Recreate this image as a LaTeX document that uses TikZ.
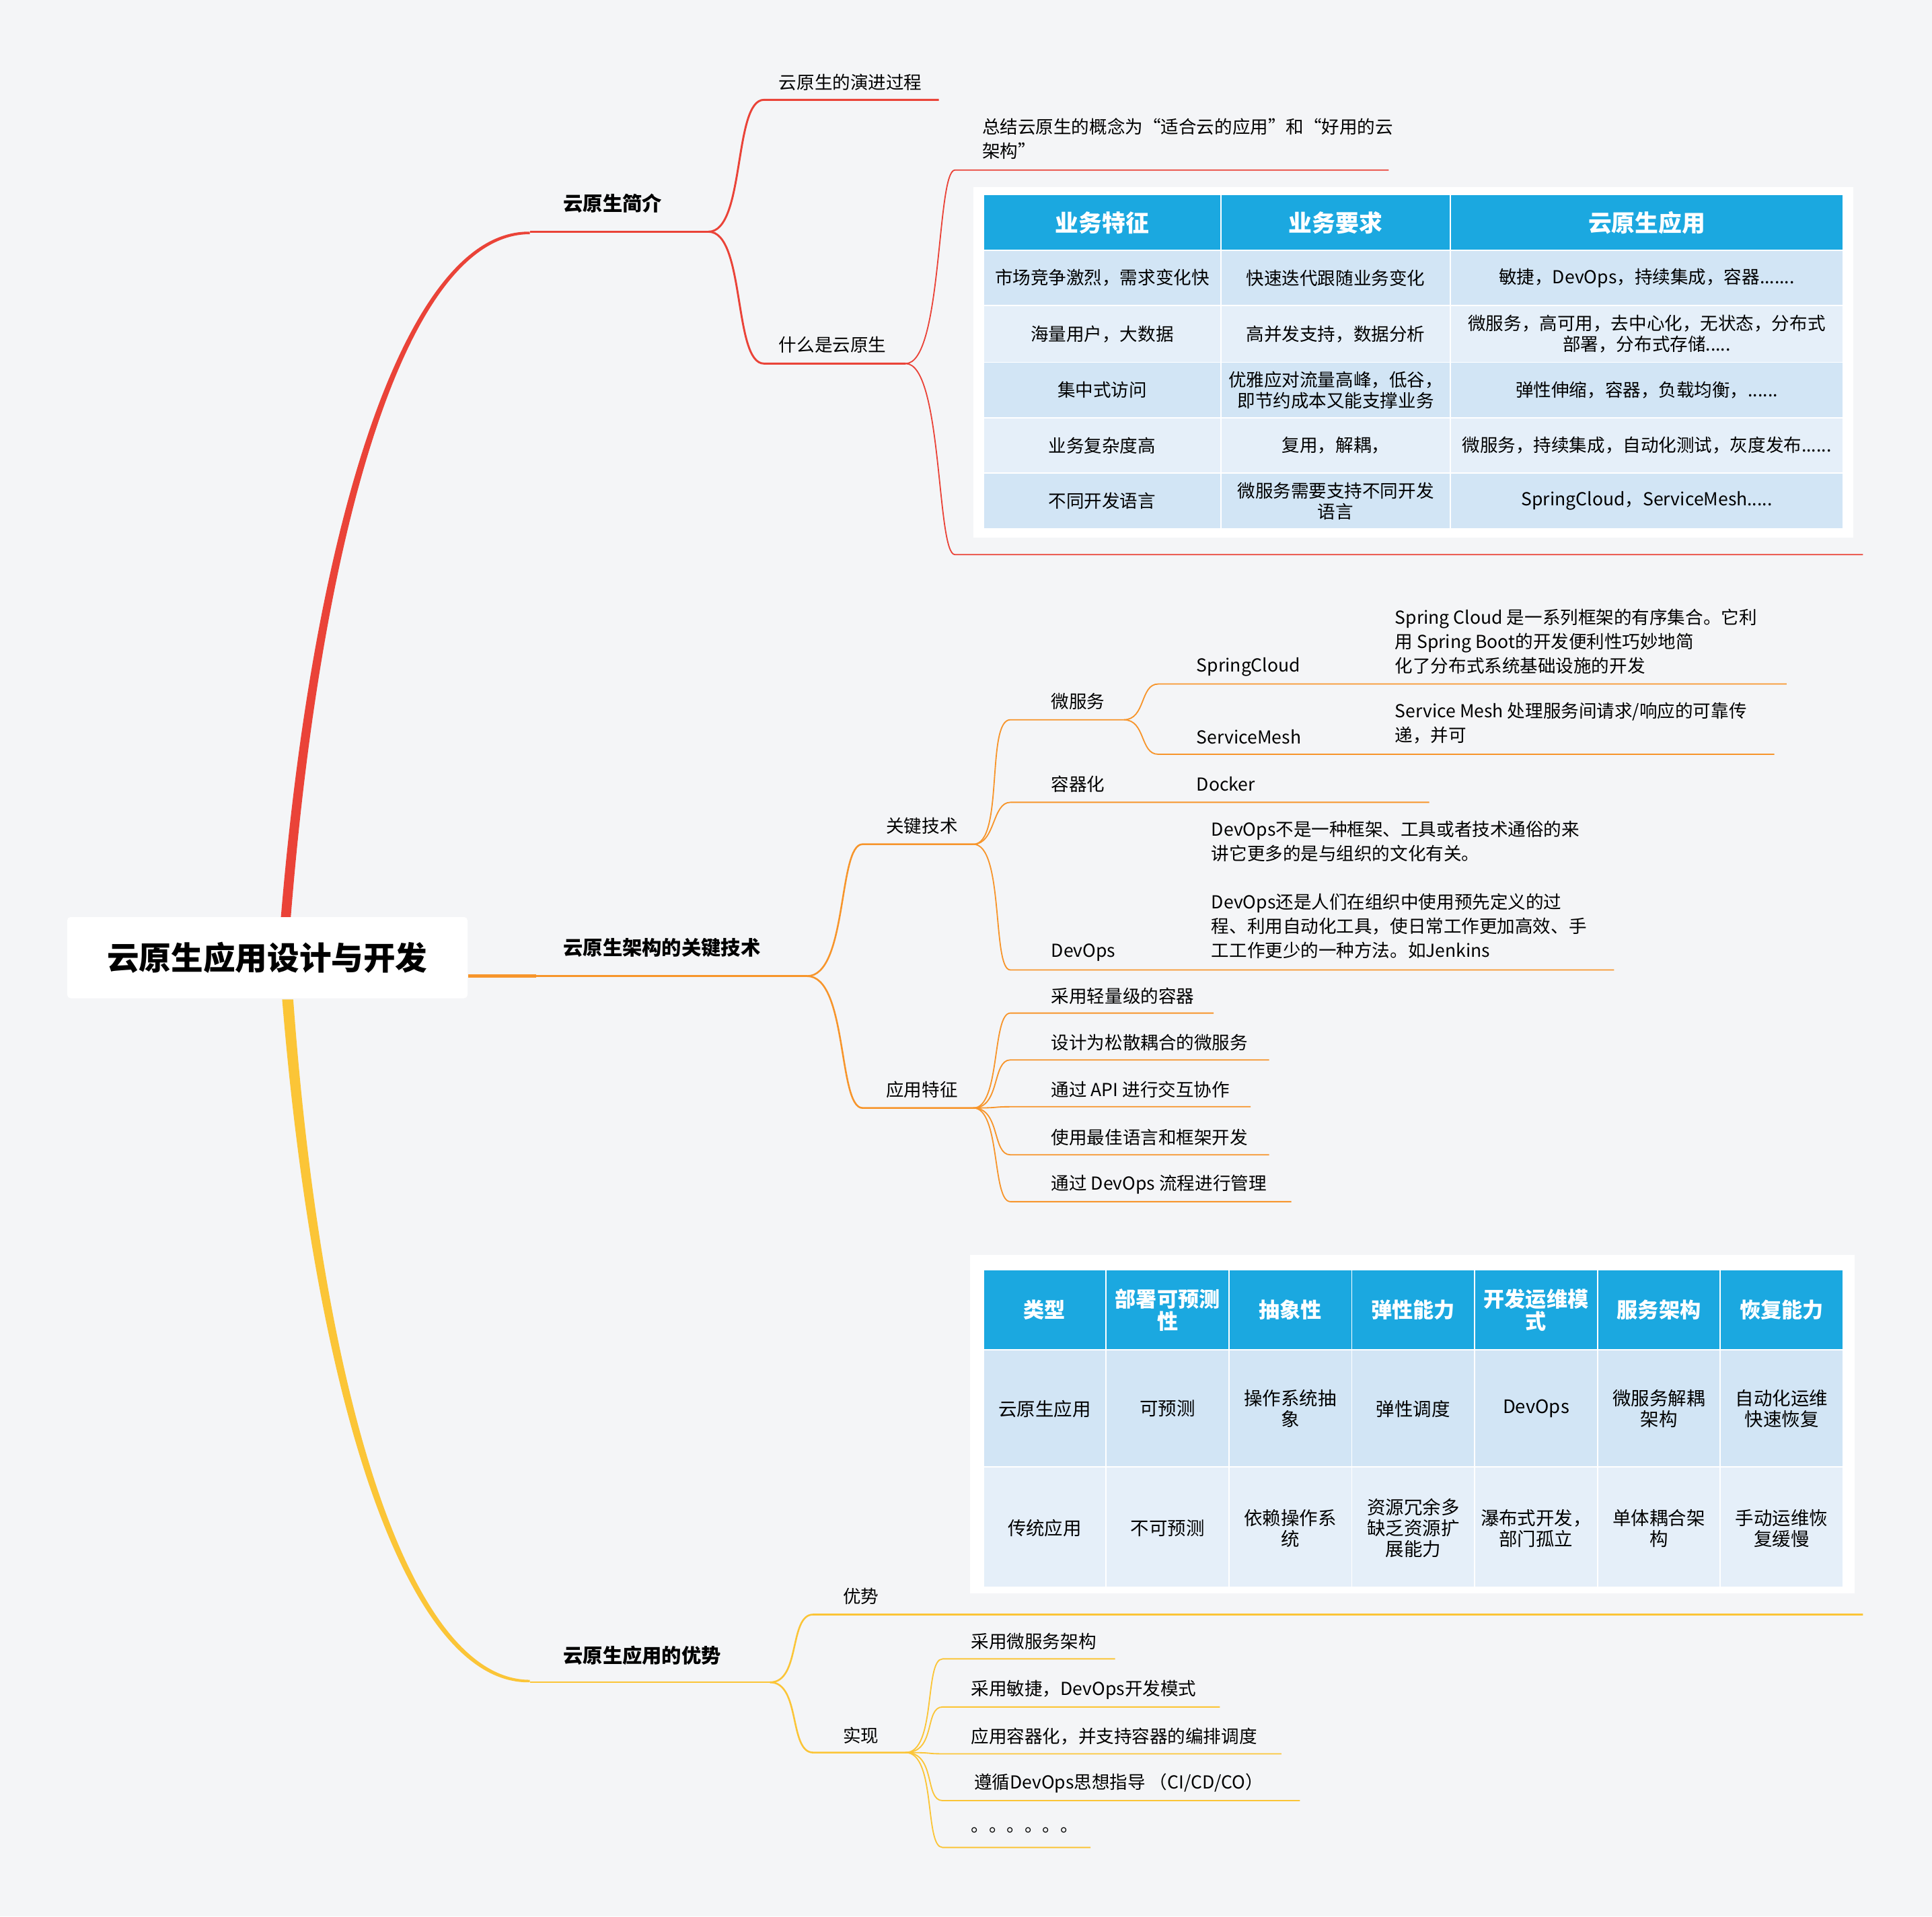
\documentclass[tikz,border=0pt]{standalone}
\usepackage{fontspec}
\setmainfont{Noto Sans CJK SC}
\begin{document}
\begin{tikzpicture}[x=1pt,y=-1pt,
  txt/.style={anchor=west,inner sep=0pt,font=\fontsize{14.5}{19.5}\selectfont,align=left},
  red/.style={draw=cRed,line width=1.6pt},
  org/.style={draw=cOrg,line width=1.4pt},
  yel/.style={draw=cYel,line width=1.4pt},
  hd/.style={fill=cHead,draw=white,line width=1pt},
  ra/.style={fill=cRowA,draw=white,line width=1pt},
  rb/.style={fill=cRowB,draw=white,line width=1pt},
  ct/.style={inner sep=0pt,align=center,font=\fontsize{14.5}{17}\selectfont},
  ht/.style={inner sep=0pt,align=center,text=white,font=\fontsize{19}{21}\selectfont\bfseries}]
\definecolor{cBg}{HTML}{F4F5F7}
\definecolor{cRed}{HTML}{EA4338}
\definecolor{cOrg}{HTML}{F7952B}
\definecolor{cYel}{HTML}{FBC537}
\definecolor{cHead}{HTML}{1BA8E0}
\definecolor{cRowA}{HTML}{D2E5F5}
\definecolor{cRowB}{HTML}{E5EFF9}
\fill[cBg] (0,0) rectangle (1568,1555);
\useasboundingbox (0,0) rectangle (1568,1555);
% root
\node[fill=white,rounded corners=3pt,minimum width=325pt,minimum height=66pt,font=\fontsize{26}{30}\selectfont\bfseries] (root) at (217,777) {云原生应用设计与开发};
% main branches
\coordinate (r0) at (231,744); \coordinate (r1) at (430,188); \coordinate (r2) at (575,188);
\coordinate (o0) at (380,792); \coordinate (o1) at (435,792); \coordinate (o2) at (655,792);
\coordinate (y0) at (232,811); \coordinate (y1) at (430,1365); \coordinate (y2) at (625,1365);
\fill[cRed] (228,744) .. controls (255,420) and (330,186) .. (r1) -- (430,190) .. controls (332,190) and (262,420) .. (236,744) -- cycle;
\draw[red] (r1) -- (r2);
\fill[cYel] (229,811) .. controls (256,1140) and (330,1367) .. (y1) -- (430,1363) .. controls (334,1363) and (262,1140) .. (238,811) -- cycle;
\draw[yel] (y1) -- (y2);
\draw[cOrg,line width=2.5pt] (o0) -- (o1); \draw[org] (o1) -- (o2);
\node[txt,font=\fontsize{16}{19}\selectfont\bfseries] (t1) at (457,165) {云原生简介};
\node[txt,font=\fontsize{16}{19}\selectfont\bfseries] (t2) at (457,769) {云原生架构的关键技术};
\node[txt,font=\fontsize{16}{19}\selectfont\bfseries] (t3) at (457,1343) {云原生应用的优势};
% red children
\node[txt] (a1) at (632,67) {云原生的演进过程};
\coordinate (a1s) at (620,81); \coordinate (a1e) at (762,81);
\draw[red] (r2) .. controls (605,188) and (595,81) .. (a1s) -- (a1e);
\node[txt] (a2) at (632,280) {什么是云原生};
\coordinate (a2s) at (620,295); \coordinate (a2e) at (735,295);
\draw[red] (r2) .. controls (605,188) and (595,295) .. (a2s) -- (a2e);
\node[txt,anchor=north west] (b1) at (797,96) {总结云原生的概念为“适合云的应用”和“好用的云\\架构”};
\coordinate (b1s) at (775,138); \coordinate (b1e) at (1127,138);
\draw[cRed,line width=1pt] (a2e) .. controls (765,295) and (760,138) .. (b1s) -- (b1e);
\coordinate (b2s) at (775,450); \coordinate (b2e) at (1512,450);
\draw[cRed,line width=1pt] (a2e) .. controls (765,295) and (760,450) .. (b2s) -- (b2e);
% table 1
\fill[white] (790,152) rectangle (1504,436);
\foreach \xa/\xb/\h in {798/991/业务特征,991/1177/业务要求,1177/1496/云原生应用}{
  \draw[hd] (\xa,158) rectangle (\xb,203);
  \node[ht] at ({(\xa+\xb)/2},181) {\h};}
\foreach \ya/\yb/\s/\c/\d/\e in {
 203/248/ra/{市场竞争激烈，需求变化快}/{快速迭代跟随业务变化}/{敏捷，DevOps，持续集成，容器.......},
 248/294/rb/{海量用户，大数据}/{高并发支持，数据分析}/{微服务，高可用，去中心化，无状态，分布式\\部署，分布式存储.....},
 294/339/ra/{集中式访问}/{优雅应对流量高峰，低谷，\\即节约成本又能支撑业务}/{弹性伸缩，容器，负载均衡，......},
 339/384/rb/{业务复杂度高}/{复用，解耦，}/{微服务，持续集成，自动化测试，灰度发布......},
 384/429/ra/{不同开发语言}/{微服务需要支持不同开发\\语言}/{SpringCloud，ServiceMesh.....}}{
  \draw[\s] (798,\ya) rectangle (991,\yb);
  \draw[\s] (991,\ya) rectangle (1177,\yb);
  \draw[\s] (1177,\ya) rectangle (1496,\yb);
  \node[ct] at (894.5,{(\ya+\yb)/2}) {\c};
  \node[ct] at (1084,{(\ya+\yb)/2}) {\d};
  \node[ct] at (1336.5,{(\ya+\yb)/2}) {\e};}
% orange
\node[txt] (k1) at (719,670) {关键技术};
\coordinate (k1s) at (700,685); \coordinate (k1e) at (790,685);
\draw[org] (o2) .. controls (688,792) and (680,685) .. (k1s) -- (k1e);
\node[txt] (k2) at (719,884) {应用特征};
\coordinate (k2s) at (700,899); \coordinate (k2e) at (790,899);
\draw[org] (o2) .. controls (688,792) and (680,899) .. (k2s) -- (k2e);
\node[txt] (m1) at (853,569) {微服务};
\coordinate (m1s) at (820,584); \coordinate (m1e) at (912,584);
\draw[cOrg,line width=1pt] (k1e) .. controls (815,685) and (800,584) .. (m1s) -- (m1e);
\node[txt] (m2) at (853,636) {容器化};
\node[txt] (m2b) at (971,636) {Docker};
\coordinate (m2s) at (820,651); \coordinate (m2e) at (1160,651);
\draw[cOrg,line width=1pt] (k1e) .. controls (808,685) and (805,651) .. (m2s) -- (m2e);
\node[txt] (m3) at (853,773) {DevOps};
\node[txt,anchor=north west] (m3b) at (983,666) {DevOps不是一种框架、工具或者技术通俗的来\\讲它更多的是与组织的文化有关。\\[20pt]DevOps还是人们在组织中使用预先定义的过\\程、利用自动化工具，使日常工作更加高效、手\\工工作更少的一种方法。如Jenkins};
\coordinate (m3s) at (820,787); \coordinate (m3e) at (1310,787);
\draw[cOrg,line width=1pt] (k1e) .. controls (815,685) and (805,787) .. (m3s) -- (m3e);
\node[txt] (s1) at (971,541) {SpringCloud};
\node[txt,anchor=north west] (s1b) at (1132,494) {Spring Cloud 是一系列框架的有序集合。它利\\用 Spring Boot的开发便利性巧妙地简\\化了分布式系统基础设施的开发};
\coordinate (s1s) at (940,555); \coordinate (s1e) at (1450,555);
\draw[cOrg,line width=1pt] (m1e) .. controls (930,584) and (925,555) .. (s1s) -- (s1e);
\node[txt] (s2) at (971,598) {ServiceMesh};
\node[txt,anchor=north west] (s2b) at (1132,570) {Service Mesh 处理服务间请求/响应的可靠传\\递，并可};
\coordinate (s2s) at (940,612); \coordinate (s2e) at (1440,612);
\draw[cOrg,line width=1pt] (m1e) .. controls (930,584) and (925,612) .. (s2s) -- (s2e);
\foreach \i/\yy/\xe/\t in {1/822/985/{采用轻量级的容器},2/860/1030/{设计为松散耦合的微服务},3/898/1015/{通过 API 进行交互协作},4/937/1030/{使用最佳语言和框架开发},5/975/1048/{通过 DevOps 流程进行管理}}{
  \node[txt] (f\i) at (853,\yy-14) {\t};
  \coordinate (f\i s) at (820,\yy); \coordinate (f\i e) at (\xe,\yy);
  \draw[cOrg,line width=1pt] (k2e) .. controls (812,899) and (805,\yy) .. (f\i s) -- (f\i e);}
% table 2
\fill[white] (787,1018) rectangle (1505,1293);
\foreach \i/\h in {0/{类型},1/{部署可预测\\性},2/{抽象性},3/{弹性能力},4/{开发运维模\\式},5/{服务架构},6/{恢复能力}}{
  \draw[hd] ({798+\i*99.7},1030) rectangle ({798+(\i+1)*99.7},1095);
  \node[ht,font=\fontsize{17}{18}\selectfont\bfseries] at ({798+(\i+0.5)*99.7},1063) {\h};}
\foreach \i/\c/\d in {0/{云原生应用}/{传统应用},1/{可预测}/{不可预测},2/{操作系统抽\\象}/{依赖操作系\\统},3/{弹性调度}/{资源冗余多\\缺乏资源扩\\展能力},4/{DevOps}/{瀑布式开发，\\部门孤立},5/{微服务解耦\\架构}/{单体耦合架\\构},6/{自动化运维\\快速恢复}/{手动运维恢\\复缓慢}}{
  \draw[ra] ({798+\i*99.7},1095) rectangle ({798+(\i+1)*99.7},1190);
  \draw[rb] ({798+\i*99.7},1190) rectangle ({798+(\i+1)*99.7},1288);
  \node[ct,font=\fontsize{15}{17}\selectfont] at ({798+(\i+0.5)*99.7},1143) {\c};
  \node[ct,font=\fontsize{15}{17}\selectfont] at ({798+(\i+0.5)*99.7},1240) {\d};}
% yellow
\node[txt] (v1) at (684,1295) {优势};
\coordinate (v1s) at (660,1310); \coordinate (v1e) at (1512,1310);
\draw[yel] (y2) .. controls (650,1365) and (640,1310) .. (v1s) -- (v1e);
\node[txt] (v2) at (684,1408) {实现};
\coordinate (v2s) at (660,1422); \coordinate (v2e) at (735,1422);
\draw[yel] (y2) .. controls (650,1365) and (640,1422) .. (v2s) -- (v2e);
\foreach \i/\yy/\xe/\t in {1/1346/905/{采用微服务架构},2/1385/990/{采用敏捷，DevOps开发模式},3/1423/1040/{应用容器化，并支持容器的编排调度},4/1461/1055/{\,遵循DevOps思想指导 （CI/CD/CO）},5/1499/885/{。。。。。。}}{
  \node[txt] (g\i) at (788,\yy-14) {\t};
  \coordinate (g\i s) at (765,\yy); \coordinate (g\i e) at (\xe,\yy);
  \draw[cYel,line width=1pt] (v2e) .. controls (760,1422) and (750,\yy) .. (g\i s) -- (g\i e);}
\end{tikzpicture}
\end{document}
